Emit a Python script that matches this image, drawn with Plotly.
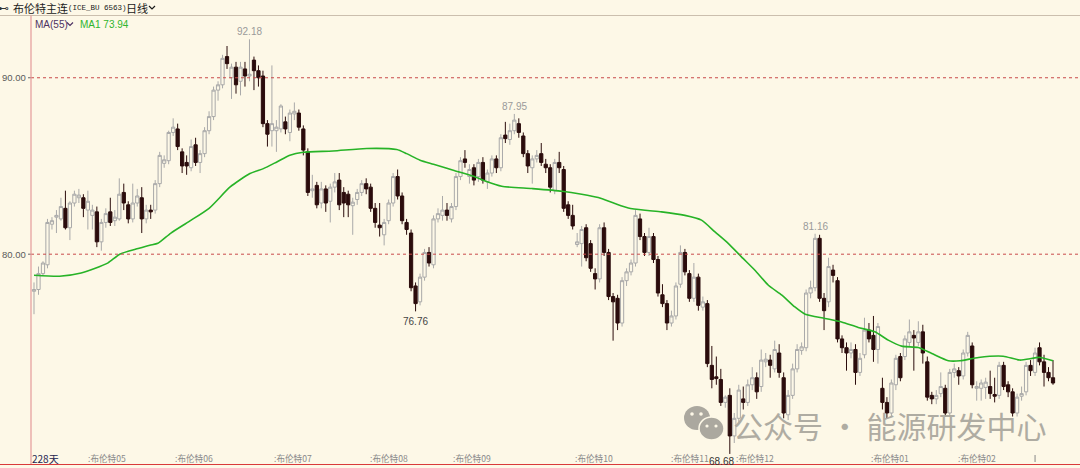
import plotly.graph_objects as go

# ---------------- data ----------------
opens = [77.9, 78.0, 78.9, 79.4, 81.7, 82.1, 82.0, 82.6, 81.5, 82.9,
         83.2, 83.2, 82.5, 82.2, 82.4, 80.7, 81.8, 82.4, 81.9, 82.0,
         83.5, 82.8, 82.0, 82.9, 83.2, 82.0, 82.5, 82.5, 84.0, 85.15,
         85.3, 86.9, 87.1, 85.8, 85.2, 84.9, 86.2, 85.2, 85.7, 87.0,
         87.8, 89.3, 89.6, 91.2, 90.0, 90.6, 89.8, 90.5, 90.1, 91.0,
         90.4, 90.1, 87.4, 87.0, 87.0, 87.1, 87.5, 86.9, 87.95, 88.0,
         87.1, 85.8, 83.6, 83.9, 82.9, 83.7, 83.0, 83.8, 84.2, 83.5,
         83.4, 82.75, 83.1, 83.5, 84.0, 83.8, 82.6, 81.65, 81.1, 81.9,
         82.9, 84.4, 83.3, 81.8, 81.2, 78.2, 77.3, 78.7, 80.1, 79.4,
         82.0, 82.2, 82.5, 82.0, 82.7, 84.4, 85.4, 84.4, 84.9, 84.4,
         85.2, 84.1, 84.6, 85.4, 84.9, 86.75, 86.5, 87.0, 87.4, 86.7,
         85.7, 84.9, 85.4, 85.7, 85.1, 84.9, 83.6, 85.2, 84.8, 82.8,
         82.2, 80.55, 80.6, 81.5, 80.6, 78.9, 78.6, 81.5, 80.1, 77.6,
         77.5, 76.1, 78.5, 79.0, 79.5, 82.0, 81.0, 80.1, 81.0, 79.7,
         77.7, 77.2, 76.1, 76.5, 78.3, 80.1, 78.9, 77.5, 78.7, 77.0,
         77.2, 73.7, 73.05, 72.9, 71.6, 72.0, 69.7, 70.7, 71.8, 71.6,
         72.6, 73.0, 72.5, 73.9, 74.0, 73.5, 74.4, 73.0, 70.9, 72.0,
         73.5, 74.55, 74.7, 77.8, 78.1, 80.9, 77.5, 77.3, 79.1, 78.5,
         75.2, 74.7, 74.4, 74.6, 73.3, 74.3, 75.7, 75.4, 74.6, 72.4,
         71.6, 71.0, 72.6, 74.2, 74.2, 75.0, 75.4, 75.0, 75.6, 73.9,
         72.0, 71.8, 72.1, 72.4, 71.0, 73.3, 73.4, 73.1, 74.4, 74.8,
         72.4, 72.4, 72.45, 72.5, 72.05, 72.0, 73.7, 72.6, 72.2, 71.0,
         71.95, 72.2, 73.7, 73.3, 74.7, 73.9, 73.3, 73.0]
highs = [78.4, 79.3, 79.6, 82.0, 82.1, 82.5, 83.2, 83.6, 83.0, 83.6,
         83.7, 83.4, 83.6, 82.8, 82.7, 82.0, 82.6, 83.2, 82.5, 84.3,
         84.0, 83.0, 84.0, 83.7, 83.8, 82.8, 82.8, 84.2, 85.8, 85.6,
         87.0, 87.7, 87.4, 86.0, 85.6, 86.5, 86.6, 85.9, 87.2, 88.1,
         89.5, 89.8, 91.3, 91.8, 90.8, 90.9, 90.9, 90.9, 92.18, 91.2,
         90.7, 90.4, 87.6, 90.7, 87.6, 88.5, 87.8, 88.2, 88.6, 88.2,
         87.3, 86.0, 84.5, 84.1, 84.1, 83.9, 84.0, 84.6, 84.6, 83.8,
         83.6, 83.2, 83.7, 84.2, 84.3, 84.0, 82.9, 82.9, 82.0, 83.1,
         84.6, 84.8, 83.5, 82.0, 81.4, 78.4, 78.9, 80.3, 80.4, 82.2,
         82.6, 83.3, 82.9, 82.9, 84.6, 85.5, 85.9, 85.1, 85.1, 85.4,
         85.5, 84.8, 85.6, 85.6, 86.8, 87.5, 87.4, 87.95, 87.7, 86.9,
         85.9, 85.6, 85.9, 86.3, 85.4, 85.1, 85.4, 85.8, 85.0, 83.0,
         82.8, 81.2, 81.6, 81.7, 80.8, 79.2, 81.7, 81.8, 80.3, 77.8,
         77.7, 78.7, 79.2, 79.7, 82.5, 82.3, 81.2, 81.5, 81.2, 79.9,
         78.3, 77.4, 76.8, 78.4, 80.5, 80.3, 79.1, 79.5, 78.9, 77.6,
         77.4, 74.8, 74.2, 73.5, 72.0, 72.4, 71.0, 72.6, 72.5, 72.9,
         73.6, 73.3, 74.6, 74.4, 74.3, 75.1, 74.9, 73.3, 72.3, 73.8,
         74.9, 75.0, 78.0, 78.5, 81.16, 81.1, 77.8, 79.8, 79.4, 78.7,
         75.4, 75.0, 75.0, 74.9, 74.4, 76.4, 76.1, 76.5, 76.1, 73.0,
         71.9, 72.9, 74.3, 74.4, 75.4, 76.3, 75.7, 76.2, 76.0, 74.2,
         72.2, 72.3, 73.3, 72.6, 73.5, 73.8, 73.6, 74.6, 75.6, 75.0,
         72.8, 72.9, 73.0, 73.4, 73.0, 73.9, 73.9, 72.8, 72.4, 72.1,
         72.5, 73.9, 74.0, 74.7, 75.0, 74.3, 73.6, 74.0]
lows = [76.6, 77.7, 78.8, 79.2, 81.4, 81.2, 81.9, 81.4, 80.8, 82.7,
        82.9, 82.1, 81.4, 81.4, 80.4, 80.2, 81.5, 81.6, 81.6, 81.9,
        82.5, 81.75, 81.8, 82.7, 81.2, 81.75, 82.0, 82.3, 83.8, 84.9,
        85.1, 86.7, 85.9, 84.6, 84.5, 84.7, 85.0, 84.6, 85.5, 86.8,
        87.6, 88.7, 89.4, 90.5, 88.8, 89.1, 89.0, 89.5, 89.8, 89.3,
        89.5, 87.2, 86.1, 86.1, 85.8, 86.9, 86.8, 86.4, 87.6, 87.0,
        85.6, 83.3, 83.2, 82.6, 82.6, 82.4, 81.8, 83.5, 82.5, 82.1,
        82.1, 81.1, 82.8, 83.3, 83.4, 82.4, 81.5, 81.0, 80.5, 81.7,
        82.7, 83.1, 81.7, 81.1, 77.9, 76.76, 77.1, 78.5, 79.3, 79.2,
        81.8, 81.9, 81.9, 81.8, 82.5, 84.2, 84.9, 84.0, 83.9, 84.1,
        84.0, 83.7, 84.4, 84.6, 84.7, 86.3, 86.2, 86.8, 86.6, 85.5,
        84.6, 84.0, 85.2, 85.0, 84.6, 83.5, 83.4, 84.6, 82.4, 82.0,
        81.4, 80.4, 79.3, 79.6, 79.0, 78.0, 78.4, 79.9, 77.4, 75.1,
        75.7, 75.9, 78.2, 78.8, 79.3, 80.8, 79.9, 79.9, 79.5, 77.6,
        77.0, 75.7, 75.9, 76.3, 78.1, 78.8, 77.3, 77.3, 76.8, 76.8,
        73.6, 72.4, 72.6, 71.4, 71.3, 68.68, 69.3, 70.5, 71.2, 71.4,
        72.3, 71.8, 72.2, 73.6, 73.0, 73.3, 73.0, 70.7, 70.6, 71.8,
        73.3, 74.3, 74.5, 77.5, 77.9, 77.3, 75.7, 77.0, 78.4, 75.0,
        74.4, 73.4, 74.1, 72.6, 73.1, 74.1, 75.0, 73.9, 73.8, 71.2,
        70.7, 70.8, 72.3, 72.8, 74.0, 74.8, 73.4, 74.8, 73.8, 71.7,
        71.5, 71.5, 71.9, 70.8, 70.8, 73.0, 72.6, 72.9, 74.2, 72.4,
        71.7, 71.7, 71.8, 71.8, 71.6, 71.8, 72.3, 71.9, 70.8, 70.8,
        71.7, 72.0, 73.1, 73.1, 73.7, 72.5, 72.8, 72.6]
closes = [78.0, 78.9, 79.5, 81.8, 81.9, 82.2, 82.7, 81.5, 82.9, 83.4,
          83.35, 82.6, 83.0, 82.5, 80.7, 81.8, 82.3, 81.8, 82.1, 83.4,
          82.9, 82.0, 82.9, 83.3, 82.0, 82.5, 82.4, 84.0, 85.6, 85.35,
          86.9, 87.2, 86.1, 85.0, 85.0, 86.1, 85.2, 85.7, 87.0, 87.8,
          89.3, 89.6, 91.1, 90.8, 90.6, 89.6, 90.6, 90.1, 90.2, 90.4,
          90.0, 87.4, 86.8, 87.4, 87.2, 88.4, 87.1, 88.0, 88.1, 87.2,
          85.9, 83.5, 83.7, 82.8, 83.7, 82.9, 83.8, 84.1, 82.8, 82.9,
          82.8, 82.95, 83.5, 84.0, 83.7, 82.6, 81.8, 81.5, 81.8, 82.9,
          84.4, 83.3, 81.9, 81.4, 78.1, 77.2, 78.7, 80.1, 79.5, 82.0,
          82.3, 82.5, 82.2, 82.7, 84.4, 85.3, 85.2, 84.8, 84.2, 85.2,
          84.2, 84.6, 85.4, 84.9, 86.6, 86.55, 87.0, 87.6, 86.9, 85.7,
          85.0, 85.4, 85.6, 85.2, 84.9, 83.8, 85.2, 84.9, 82.6, 82.2,
          81.6, 80.7, 81.4, 79.8, 79.2, 78.6, 81.5, 80.1, 77.6, 77.3,
          76.1, 78.5, 79.0, 79.5, 82.2, 81.0, 80.1, 81.0, 79.7, 77.8,
          77.2, 76.1, 76.5, 78.2, 80.1, 79.0, 77.5, 78.7, 77.1, 77.3,
          73.8, 72.9, 72.95, 71.6, 71.9, 69.7, 70.7, 72.3, 71.6, 72.6,
          73.0, 72.2, 74.0, 74.05, 73.7, 74.6, 73.3, 71.0, 72.0, 73.5,
          74.6, 74.75, 77.8, 78.1, 80.9, 77.5, 76.8, 79.3, 78.8, 75.2,
          74.7, 74.4, 74.6, 73.3, 74.1, 75.7, 75.2, 74.6, 75.9, 71.6,
          71.0, 72.7, 74.1, 73.0, 75.2, 75.6, 75.25, 75.6, 74.4, 71.9,
          71.8, 72.0, 72.5, 71.0, 73.3, 73.5, 73.1, 74.4, 75.4, 72.6,
          72.5, 72.7, 72.75, 72.1, 71.95, 73.7, 72.5, 72.2, 71.0, 71.9,
          72.1, 73.7, 73.4, 74.4, 73.9, 73.3, 73.0, 72.7]

# MA(55) line, read at points along the curve (candle index, value)
ma_idx = [0, 5.7, 10.5, 13.5, 16.5, 19.1, 23.2, 25.8, 27.6, 30.5, 34.5, 39,
          43.7, 48.1, 51.1, 54.1, 57, 60, 66.6, 74.1, 80.8, 83, 86, 89, 93.4,
          97.9, 100.5, 104.2, 110.9, 117.6, 122, 125.7, 129.4, 132.4, 136.1,
          139.8, 145, 148.7, 151.7, 154.7, 157.6, 160.6, 163.6, 166.6, 169.5,
          171.8, 176.2, 179.9, 183.6, 187.3, 190.3, 193.3, 197, 200, 203.7,
          206.3, 210.4, 215.9, 219.6, 224.1, 227]
ma_val = [78.81, 78.75, 78.94, 79.19, 79.51, 80.0, 80.32, 80.51, 80.62, 81.2,
          81.85, 82.6, 83.81, 84.57, 84.85, 85.23, 85.61, 85.78, 85.85, 85.99,
          85.93, 85.7, 85.33, 85.1, 84.76, 84.42, 84.15, 83.85, 83.72, 83.57,
          83.4, 83.21, 82.87, 82.62, 82.49, 82.4, 82.2, 81.93, 81.26, 80.6,
          79.85, 79.09, 78.24, 77.68, 77.01, 76.6, 76.36, 76.16, 75.85, 75.6,
          75.13, 74.79, 74.71, 74.37, 73.96, 73.96, 74.15, 74.22, 74.0, 74.15,
          73.96]

month_labels = ["布伦特05", "布伦特06", "布伦特07", "布伦特08", "布伦特09",
                "布伦特10", "布伦特11", "布伦特12", "布伦特01", "布伦特02"]
month_idx = [11.5, 31, 53, 74.5, 93, 120, 141.5, 156, 186, 205.5]

grid_levels = [90.00, 80.00]
ma_last = 73.94
days_label = "228天"

# ---------------- layout constants ----------------
W, H = 1080, 468
PL, PR, PT, PB = 31, 1080, 16, 464
STEP = 4.489
X0PIX = 34
BG = "#fdf8e7"
UP_LINE = "#a9a9a9"
DOWN = "#2b0c0c"
GREEN = "#27b327"


def px(x):
    return (x - PL) / (PR - PL)


def py(y):
    return (PB - y) / (PB - PT)


x_lo = (PL - X0PIX) / STEP
x_hi = (PR - X0PIX) / STEP
y_lo, y_hi = 68.11, 93.50

xs = list(range(len(closes)))

fig = go.Figure()
fig.add_trace(go.Candlestick(
    x=xs, open=opens, high=highs, low=lows, close=closes,
    increasing=dict(line=dict(color=UP_LINE, width=1), fillcolor=BG),
    decreasing=dict(line=dict(color=DOWN, width=1), fillcolor=DOWN),
    whiskerwidth=0, hoverinfo="skip", showlegend=False,
))
fig.add_trace(go.Scatter(
    x=ma_idx, y=ma_val, mode="lines",
    line=dict(color=GREEN, width=1.6, shape="spline", smoothing=0.6),
    hoverinfo="skip", showlegend=False,
))

shapes = []
ann = []

# dashed price levels and left labels
for lv in grid_levels:
    shapes.append(dict(type="line", xref="paper", yref="y", x0=0, x1=1, y0=lv, y1=lv,
                       line=dict(color="#c84a4a", width=1, dash="dot")))
    ann.append(dict(xref="paper", yref="y", x=px(28), y=lv, text=f"{lv:.2f}",
                    xanchor="right", yanchor="middle", showarrow=False,
                    font=dict(family="Liberation Sans", size=9.5, color="#5a5a5a")))
    shapes.append(dict(type="line", xref="paper", yref="y", x0=px(28), x1=px(31), y0=lv, y1=lv,
                       line=dict(color="#666666", width=1)))

# frame lines
shapes.append(dict(type="line", xref="paper", yref="paper", x0=px(0), x1=px(1080), y0=py(15.5), y1=py(15.5),
                   line=dict(color="#cbbfae", width=1)))
shapes.append(dict(type="line", xref="paper", yref="paper", x0=px(31), x1=px(31), y0=py(15.5), y1=py(464),
                   line=dict(color="#e49a9a", width=1.2)))
shapes.append(dict(type="line", xref="paper", yref="paper", x0=px(0), x1=px(1080), y0=py(464.5), y1=py(464.5),
                   line=dict(color="#d93a3a", width=1.2)))
# last small tick at bottom
shapes.append(dict(type="line", xref="x", yref="paper", x0=223, x1=223, y0=py(462), y1=py(455),
                   line=dict(color="#888888", width=1)))

# header
ann.append(dict(xref="paper", yref="paper", x=px(-4), y=py(8), text="⊷", xanchor="left", yanchor="middle",
                showarrow=False, font=dict(family="DejaVu Sans", size=11, color="#333")))
ann.append(dict(xref="paper", yref="paper", x=px(11), y=py(8), text="布伦特主连", xanchor="left", yanchor="middle",
                showarrow=False, font=dict(family="Noto Sans CJK SC", size=11, color="#1a1a1a")))
ann.append(dict(xref="paper", yref="paper", x=px(66), y=py(8), text="(ICE_BU 6563)", xanchor="left",
                yanchor="middle", showarrow=False,
                font=dict(family="Liberation Mono", size=7.5, color="#1a1a1a")))
ann.append(dict(xref="paper", yref="paper", x=px(124), y=py(8), text="日线", xanchor="left", yanchor="middle",
                showarrow=False, font=dict(family="Noto Sans CJK SC", size=11, color="#1a1a1a")))
shapes.append(dict(type="path", xref="paper", yref="paper",
                   path=f"M {px(149)},{py(6)} L {px(152)},{py(9)} L {px(155)},{py(6)}",
                   line=dict(color="#1a1a1a", width=1.2)))
# MA legend
ann.append(dict(xref="paper", yref="paper", x=px(33), y=py(24), text="MA(55)", xanchor="left", yanchor="middle",
                showarrow=False, font=dict(family="Liberation Sans", size=10, color="#4d3263")))
shapes.append(dict(type="path", xref="paper", yref="paper",
                   path=f"M {px(67)},{py(22.5)} L {px(70)},{py(25.5)} L {px(73)},{py(22.5)}",
                   line=dict(color="#4d3263", width=1.2)))
ann.append(dict(xref="paper", yref="paper", x=px(78), y=py(24), text=f"MA1 {ma_last:.2f}", xanchor="left",
                yanchor="middle", showarrow=False,
                font=dict(family="Liberation Sans", size=10, color="#2fb52f")))

# extreme value labels
i_hi = highs.index(max(highs))
ann.append(dict(xref="x", yref="y", x=i_hi, y=highs[i_hi], text=f"{highs[i_hi]:.2f}", yanchor="bottom",
                yshift=0, showarrow=False, font=dict(family="Liberation Sans", size=10, color="#9a9a9a")))
i2 = 107
ann.append(dict(xref="x", yref="y", x=i2, y=highs[i2], text=f"{highs[i2]:.2f}", yanchor="bottom",
                yshift=0, showarrow=False, font=dict(family="Liberation Sans", size=10, color="#9a9a9a")))
i3 = 174
ann.append(dict(xref="x", yref="y", x=i3, y=highs[i3], text=f"{highs[i3]:.2f}", yanchor="bottom",
                yshift=0, showarrow=False, font=dict(family="Liberation Sans", size=10, color="#9a9a9a")))
i4 = 85
ann.append(dict(xref="x", yref="y", x=i4, y=lows[i4], text=f"{lows[i4]:.2f}", yanchor="top",
                yshift=-3, showarrow=False, font=dict(family="Liberation Sans", size=10, color="#444444")))
i5 = lows.index(min(lows))
ann.append(dict(xref="x", yref="y", x=i5, y=lows[i5], text=f"{lows[i5]:.2f}", yanchor="top", xanchor="right",
                xshift=6, yshift=0, showarrow=False,
                font=dict(family="Liberation Sans", size=10, color="#333333")))

# bottom axis labels
ann.append(dict(xref="paper", yref="paper", x=px(30), y=py(458), text=days_label, xanchor="left",
                yanchor="middle", showarrow=False,
                font=dict(family="Noto Sans CJK SC", size=10, color="#252550")))
for lab, mi in zip(month_labels, month_idx):
    ann.append(dict(xref="x", yref="paper", x=mi, y=py(458), text=":" + lab, xanchor="left",
                    yanchor="middle", showarrow=False,
                    font=dict(family="Noto Sans CJK SC", size=8.6, color="#8a8a8a")))

# watermark
WM = "#aba89f"
shapes.append(dict(type="circle", xref="paper", yref="paper", layer="below",
                   x0=px(684), x1=px(710), y0=py(430), y1=py(406), fillcolor=WM, line=dict(width=0)))
shapes.append(dict(type="circle", xref="paper", yref="paper", layer="below",
                   x0=px(699), x1=px(724), y0=py(440), y1=py(417), fillcolor=WM,
                   line=dict(color=BG, width=1.5)))
for ex, ey, r in [(692, 414, 1.8), (701, 414, 1.8), (707, 426, 1.6), (716, 426, 1.6)]:
    shapes.append(dict(type="circle", xref="paper", yref="paper", layer="below",
                       x0=px(ex - r), x1=px(ex + r), y0=py(ey + r), y1=py(ey - r),
                       fillcolor=BG, line=dict(width=0)))
ann.append(dict(xref="paper", yref="paper", x=px(731), y=py(425), text="公众号 · 能源研发中心",
                xanchor="left", yanchor="middle", showarrow=False, opacity=0.95,
                font=dict(family="Noto Sans CJK SC", size=30, color=WM)))

fig.update_layout(
    width=W, height=H,
    margin=dict(l=PL, r=W - PR, t=PT, b=H - PB),
    paper_bgcolor=BG, plot_bgcolor=BG,
    boxgap=0.28, boxgroupgap=0,
    xaxis=dict(range=[x_lo, x_hi], showgrid=False, zeroline=False, showticklabels=False,
               showline=False, ticks="", rangeslider=dict(visible=False), fixedrange=True),
    yaxis=dict(range=[y_lo, y_hi], showgrid=False, zeroline=False, showticklabels=False,
               showline=False, ticks="", fixedrange=True),
    shapes=shapes, annotations=ann, showlegend=False,
)

fig.write_html(
    "out.html",
    config={"displayModeBar": False},
    post_script="document.body.style.margin='0px';document.body.style.overflow='hidden';"
                "document.body.style.background='" + BG + "';",
)
